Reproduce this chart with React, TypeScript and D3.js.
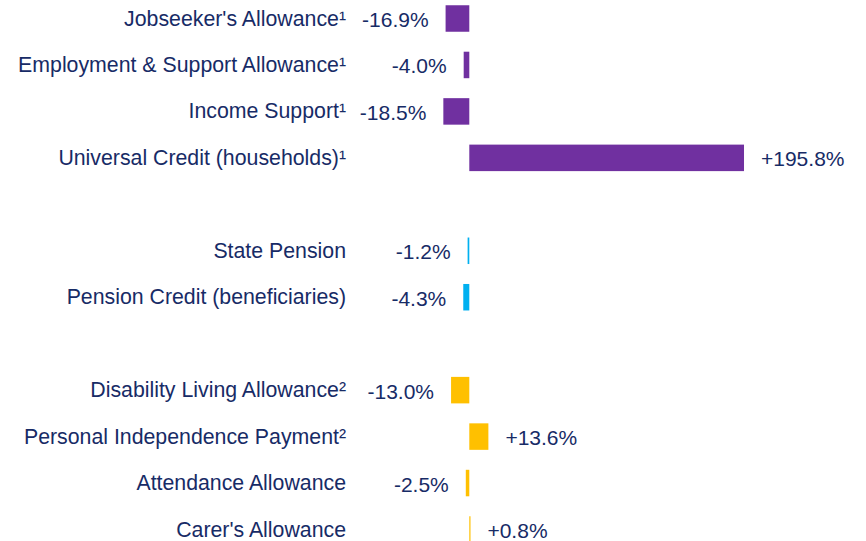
import React from "react";
import * as d3 from "d3";

const categories = [
  "Jobseeker's Allowance¹",
  "Employment & Support Allowance¹",
  "Income Support¹",
  "Universal Credit (households)¹",
  "",
  "State Pension",
  "Pension Credit (beneficiaries)",
  "",
  "Disability Living Allowance²",
  "Personal Independence Payment²",
  "Attendance Allowance",
  "Carer's Allowance",
];
const values: (number | null)[] = [-16.9, -4.0, -18.5, 195.8, null, -1.2, -4.3, null, -13.0, 13.6, -2.5, 0.8];
const groups = ["work", "work", "work", "work", "", "pension", "pension", "", "disability", "disability", "disability", "disability"];
const groupColors: Record<string, string> = { work: "#7030A0", pension: "#00B0F0", disability: "#FFC000" };

const W = 866;
const H = 541;
const TEXT = "#172B66";

export default function App() {
  const slots = categories.map((_, i) => String(i));
  const y = d3.scalePoint<string>().domain(slots).range([18.5, 529.5]);
  const x = d3.scaleLinear().domain([-20, 200]).range([441.24, 749.9]);
  const barH = 26.5;
  const fmt = (v: number) => (v > 0 ? "+" : "") + v.toFixed(1) + "%";
  return (
    <svg width={W} height={H} style={{ position: "absolute", left: 0, top: 0, display: "block", background: "#fff" }}
      fontFamily="'Liberation Sans', Arial, sans-serif">
      {categories.map((c, i) => {
        const v = values[i];
        if (v === null) return null;
        const cy = y(String(i))!;
        const x0 = x(Math.min(0, v));
        const x1 = x(Math.max(0, v));
        return (
          <g key={i}>
            <text x={346} y={cy + 7} textAnchor="end" fontSize={21.3} fill={TEXT}>{c}</text>
            <rect x={x0} y={cy - barH / 2} width={Math.max(1.2, x1 - x0)} height={barH} fill={groupColors[groups[i]]} />
            <text x={v < 0 ? x0 - 17 : x1 + 17} y={cy + 8.5} textAnchor={v < 0 ? "end" : "start"} fontSize={21} fill={TEXT}>{fmt(v)}</text>
          </g>
        );
      })}
    </svg>
  );
}
